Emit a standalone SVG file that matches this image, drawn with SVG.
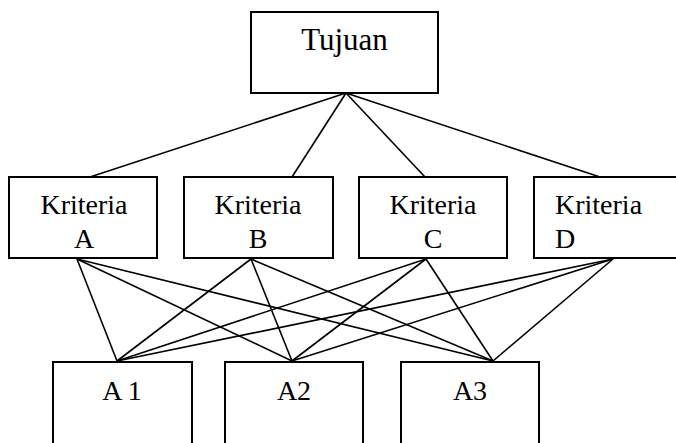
<svg xmlns="http://www.w3.org/2000/svg" width="676" height="443" viewBox="0 0 676 443">
<style>
.box{fill:#fff;stroke:#000;stroke-width:2}
.t{font-family:"Liberation Serif","Times New Roman",serif;fill:#000}
.c line{stroke:#000;stroke-width:1.6}
</style>
<rect width="676" height="443" fill="#fff"/>
<g class="c" id="connectors">
<line x1="346" y1="93" x2="90" y2="177"/>
<line x1="346" y1="93" x2="292" y2="177"/>
<line x1="346" y1="93" x2="425" y2="177"/>
<line x1="346" y1="93" x2="600" y2="177"/>
<line x1="77" y1="259" x2="117" y2="361"/>
<line x1="77" y1="259" x2="292" y2="361"/>
<line x1="77" y1="259" x2="493" y2="361"/>
<line x1="251" y1="259" x2="117" y2="361"/>
<line x1="251" y1="259" x2="292" y2="361"/>
<line x1="251" y1="259" x2="493" y2="361"/>
<line x1="426" y1="259" x2="117" y2="361"/>
<line x1="426" y1="259" x2="292" y2="361"/>
<line x1="426" y1="259" x2="493" y2="361"/>
<line x1="613" y1="259" x2="117" y2="361"/>
<line x1="613" y1="259" x2="292" y2="361"/>
<line x1="613" y1="259" x2="493" y2="361"/>
</g>
<g id="tujuan">
<rect class="box" x="251" y="12" width="187" height="81"/>
<text class="t" x="344.5" y="50" font-size="31" text-anchor="middle">Tujuan</text>
</g>
<g id="kriteriaA">
<rect class="box" x="9" y="177" width="148" height="81"/>
<text class="t" x="84" y="214" font-size="28" text-anchor="middle">Kriteria</text>
<text class="t" x="84" y="248" font-size="28" text-anchor="middle">A</text>
</g>
<g id="kriteriaB">
<rect class="box" x="184" y="177" width="149" height="81"/>
<text class="t" x="258" y="214" font-size="28" text-anchor="middle">Kriteria</text>
<text class="t" x="258" y="248" font-size="28" text-anchor="middle">B</text>
</g>
<g id="kriteriaC">
<rect class="box" x="359" y="177" width="148" height="81"/>
<text class="t" x="433" y="214" font-size="28" text-anchor="middle">Kriteria</text>
<text class="t" x="433" y="248" font-size="28" text-anchor="middle">C</text>
</g>
<g id="kriteriaD">
<rect class="box" x="534" y="177" width="148" height="81"/>
<text class="t" x="555" y="214" font-size="28">Kriteria</text>
<text class="t" x="555" y="248" font-size="28">D</text>
</g>
<g id="a1">
<rect class="box" x="53" y="362" width="139" height="100"/>
<text class="t" x="122" y="400" font-size="28" text-anchor="middle">A 1</text>
</g>
<g id="a2">
<rect class="box" x="225" y="362" width="138" height="100"/>
<text class="t" x="294" y="400" font-size="28" text-anchor="middle">A2</text>
</g>
<g id="a3">
<rect class="box" x="401" y="362" width="138" height="100"/>
<text class="t" x="470" y="400" font-size="28" text-anchor="middle">A3</text>
</g>
</svg>
